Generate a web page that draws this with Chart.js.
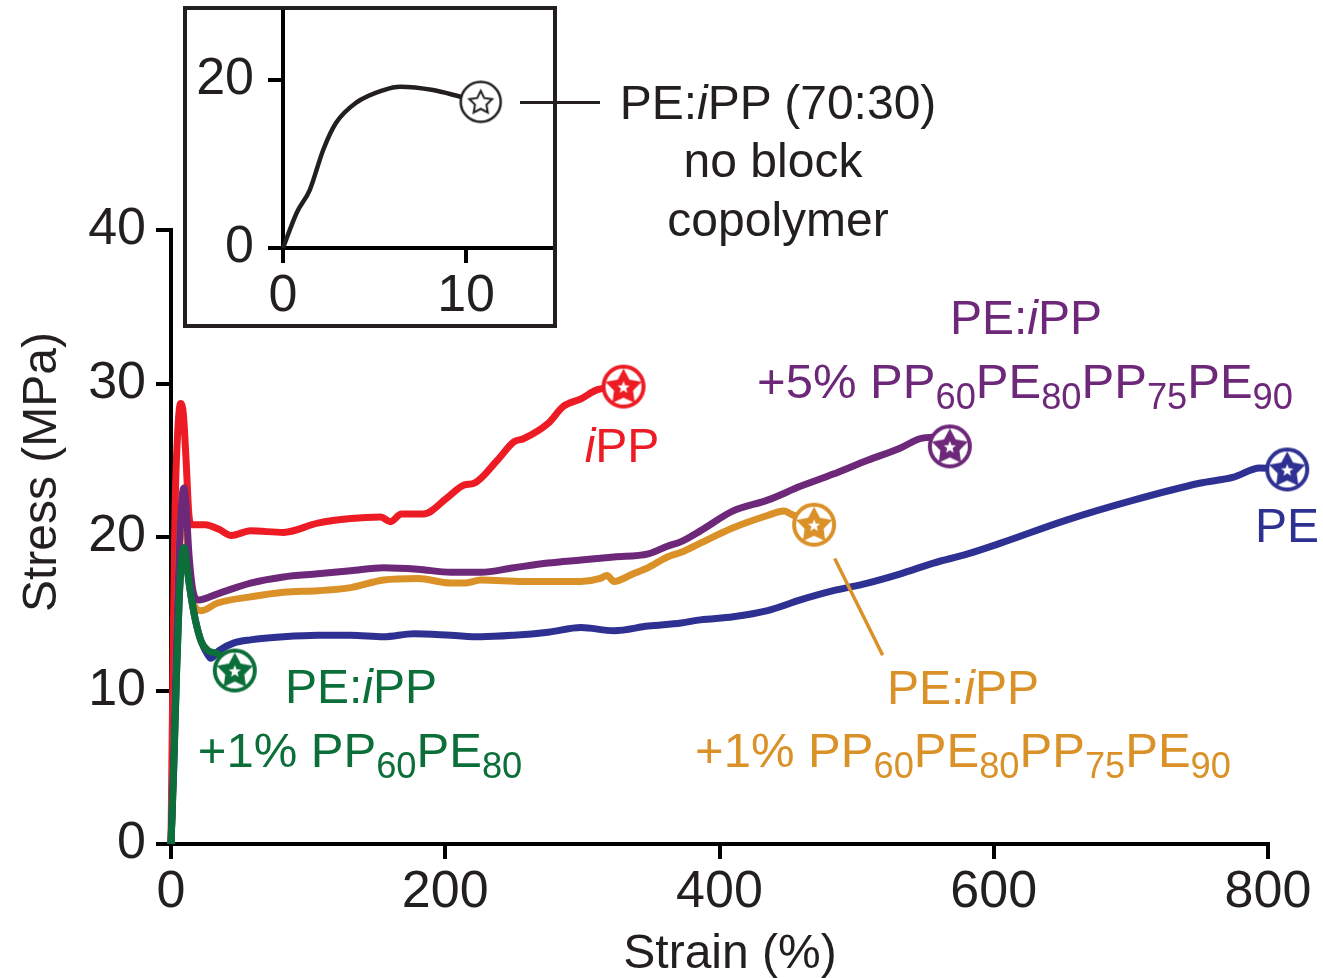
<!DOCTYPE html>
<html>
<head>
<meta charset="utf-8">
<script src="https://cdn.jsdelivr.net/npm/chart.js@4.4.1/dist/chart.umd.min.js"></script>
<style>
  body { margin: 0; background: #fff; }
  #wrap { position: relative; width: 1323px; height: 978px; font-family: "Liberation Sans", Arial, sans-serif; color: #231f20; }
  #main { position: absolute; left: 0; top: 0; }
  #box { position: absolute; left: 183px; top: 6px; width: 374px; height: 322px; border: 4px solid #231f20; box-sizing: border-box; background: #fff; }
  #inset { position: absolute; left: 187px; top: 10px; }
  .lbl { position: absolute; white-space: nowrap; font-size: 48px; line-height: 1; transform: translate(-50%, -50%); }
  .s { font-size: 0.74em; position: relative; top: 0.3em; }
  .lead { position: absolute; height: 3px; background: #231f20; }
</style>
</head>
<body>
<div id="wrap">
  <canvas id="main" width="1323" height="978"></canvas>
  <div id="box"></div>
  <canvas id="inset" width="366" height="314"></canvas>
  <div class="lead" style="left:520px;top:101px;width:80px"></div>

  <div class="lbl" style="left:778px;top:103px">PE:<i>i</i>PP (70:30)</div>
  <div class="lbl" style="left:773px;top:161px">no block</div>
  <div class="lbl" style="left:778px;top:220px">copolymer</div>

  <div class="lbl" style="left:40px;top:472px;transform:translate(-50%,-50%) rotate(-90deg)">Stress (MPa)</div>
  <div class="lbl" style="left:730px;top:952px">Strain (%)</div>

  <div class="lbl" style="left:622px;top:446px;color:#ed1c24"><i>i</i>PP</div>
  <div class="lbl" style="left:1026px;top:318px;color:#6e2879">PE:<i>i</i>PP</div>
  <div class="lbl" style="left:1025px;top:381px;color:#6e2879;font-size:49px">+5% PP<span class="s">60</span>PE<span class="s">80</span>PP<span class="s">75</span>PE<span class="s">90</span></div>
  <div class="lbl" style="left:1287px;top:526px;color:#2e3192">PE</div>
  <div class="lbl" style="left:361px;top:687px;color:#0c6f3a">PE:<i>i</i>PP</div>
  <div class="lbl" style="left:360px;top:750px;color:#0c6f3a;font-size:49px">+1% PP<span class="s">60</span>PE<span class="s">80</span></div>
  <div class="lbl" style="left:963px;top:688px;color:#da9128">PE:<i>i</i>PP</div>
  <div class="lbl" style="left:963px;top:750px;color:#da9128;font-size:49px">+1% PP<span class="s">60</span>PE<span class="s">80</span>PP<span class="s">75</span>PE<span class="s">90</span></div>
</div>

<script>
// strain (%) / stress (MPa)
const strainIPP = [0, 1.5, 3, 5, 7, 9, 11, 13, 15, 25, 35, 44, 58, 82, 107, 131, 153, 160, 168, 184, 202, 214, 221, 238, 250, 257, 275, 286, 299, 311, 330];
const stressIPP = [0, 12, 22, 27, 28.7, 28, 25, 21.5, 20.8, 20.8, 20.5, 20.1, 20.4, 20.3, 20.9, 21.2, 21.3, 21.0, 21.5, 21.5, 22.6, 23.4, 23.5, 25.0, 26.2, 26.4, 27.4, 28.5, 29.0, 29.6, 29.8];

const strain5 = [0, 2, 4, 6, 8, 9.5, 11, 13, 16, 20, 34, 58, 82, 107, 131, 155, 180, 204, 226, 250, 275, 299, 323, 348, 362, 372, 386, 410, 435, 459, 483, 508, 532, 546, 556, 568];
const stress5 = [0, 6, 13, 19, 22.5, 23.2, 22, 19, 16.5, 15.9, 16.3, 17.0, 17.4, 17.6, 17.8, 18.0, 17.9, 17.7, 17.7, 18.0, 18.3, 18.5, 18.7, 18.9, 19.4, 19.7, 20.4, 21.7, 22.4, 23.3, 24.1, 25.0, 25.8, 26.4, 26.5, 25.9];

const strain1b = [0, 2, 4, 6, 8, 9.5, 11, 13, 16, 22, 34, 58, 82, 107, 131, 155, 180, 204, 214, 226, 257, 299, 313, 318, 323, 337, 348, 362, 372, 386, 410, 435, 447, 452, 469];
const stress1b = [0, 6, 13, 19, 22, 22.6, 21, 18, 15.8, 15.2, 15.7, 16.1, 16.4, 16.5, 16.7, 17.2, 17.3, 17.0, 17.0, 17.2, 17.1, 17.1, 17.3, 17.5, 17.1, 17.6, 18.0, 18.7, 19.0, 19.6, 20.6, 21.4, 21.7, 21.5, 20.8];

const strainPE = [0, 2, 4, 6, 8, 9.5, 11, 14, 18, 22, 27, 29, 35, 46, 58, 82, 107, 131, 155, 177, 204, 226, 250, 275, 299, 323, 348, 372, 386, 410, 435, 459, 483, 508, 532, 556, 581, 605, 653, 702, 750, 775, 794, 814];
const stressPE = [0, 5, 11, 16, 18.8, 19.3, 18.5, 16.5, 14.5, 13.2, 12.3, 12.1, 12.6, 13.1, 13.3, 13.5, 13.6, 13.6, 13.5, 13.7, 13.6, 13.5, 13.6, 13.8, 14.1, 13.9, 14.2, 14.4, 14.6, 14.8, 15.2, 15.9, 16.5, 17.0, 17.6, 18.3, 18.9, 19.6, 21.1, 22.4, 23.5, 23.9, 24.5, 24.4];

const strain1a = [0, 2, 4, 6, 8, 9.5, 11, 14, 18, 22, 27, 34, 46.5];
const stress1a = [0, 5, 11, 16, 18.8, 19.3, 18.5, 16.5, 14.5, 13.2, 12.6, 12.4, 11.3];

// inset: blend with no block copolymer
const insetStrain = [0, 0.75, 1.46, 2.2, 2.9, 4.0, 5.5, 6.4, 8.2, 9.7, 10.8];
const insetStress = [0, 4.2, 6.9, 11.7, 14.9, 17.3, 18.8, 19.2, 18.8, 18.0, 17.4];

// orange call-out line, in data units
const leaderStrain = [484, 519];
const leaderStress = [18.6, 12.3];

const INK = '#231f20';
const FONT = '"Liberation Sans", Arial, sans-serif';

function starPath(g, cx, cy, ro, ri) {
  g.beginPath();
  for (let i = 0; i < 10; i++) {
    const r = i % 2 ? ri : ro;
    const a = -Math.PI / 2 + i * Math.PI / 5;
    g.lineTo(cx + r * Math.cos(a), cy + r * Math.sin(a));
  }
  g.closePath();
}

function makeMarker(color, R, lw, solid) {
  const c = document.createElement('canvas');
  const s = Math.ceil(2 * R + lw + 4);
  c.width = c.height = s;
  const g = c.getContext('2d');
  const m = s / 2;
  g.beginPath();
  g.arc(m, m, R, 0, 2 * Math.PI);
  g.fillStyle = '#fff';
  g.fill();
  g.lineWidth = lw;
  g.strokeStyle = color;
  g.stroke();
  if (solid) {
    starPath(g, m, m + 1, R - 1, R * 0.5);
    g.fillStyle = color;
    g.fill();
    starPath(g, m, m + 1, R * 0.32, R * 0.14);
    g.fillStyle = '#fff';
    g.fill();
  } else {
    starPath(g, m, m + 1, R * 0.6, R * 0.3);
    g.lineWidth = 2;
    g.stroke();
  }
  return c;
}

function toPoints(xs, ys) {
  return xs.map((x, i) => ({ x: x, y: ys[i] }));
}

function series(label, xs, ys, color, width, marker) {
  const last = xs.length - 1;
  return {
    label: label,
    data: toPoints(xs, ys),
    showLine: true,
    borderColor: color,
    borderWidth: width,
    cubicInterpolationMode: 'monotone',
    clip: false,
    pointStyle: (c) => c.dataIndex === last ? marker : 'circle',
    pointRadius: (c) => c.dataIndex === last ? 40 : 0,
    pointHoverRadius: 0,
  };
}

function axis(min, max, step, tickPad, extra) {
  return Object.assign({
    type: 'linear',
    min: min,
    max: max,
    ticks: { stepSize: step, includeBounds: false, color: INK, padding: tickPad, font: { family: FONT, size: 52 } },
    grid: { display: true, drawOnChartArea: false, drawTicks: true, tickLength: 15, tickWidth: 4, tickColor: '#000', color: '#000', lineWidth: 4 },
    border: { display: true, width: 4, color: '#000' },
  }, extra);
}

// inset axes run right to the frame, so drop the label overhang padding
function fitInset(size) {
  return (s) => {
    if (s.isHorizontal()) s.height = size; else s.width = size;
    s.paddingTop = 0;
    s.paddingRight = 0;
    s.paddingLeft = 0;
    s.paddingBottom = 0;
  };
}

const leaderPlugin = {
  id: 'leader',
  afterDatasetsDraw(chart) {
    const { ctx, scales: { x, y } } = chart;
    ctx.save();
    ctx.strokeStyle = '#da9128';
    ctx.lineWidth = 3.5;
    ctx.beginPath();
    ctx.moveTo(x.getPixelForValue(leaderStrain[0]), y.getPixelForValue(leaderStress[0]));
    ctx.lineTo(x.getPixelForValue(leaderStrain[1]), y.getPixelForValue(leaderStress[1]));
    ctx.stroke();
    ctx.restore();
  }
};

new Chart(document.getElementById('main'), {
  type: 'scatter',
  data: {
    datasets: [
      series('PE:iPP +1% PP60PE80', strain1a, stress1a, '#0c6f3a', 7, makeMarker('#0c6f3a', 20, 4, true)),
      series('PE', strainPE, stressPE, '#2e3192', 7, makeMarker('#2e3192', 20, 4, true)),
      series('PE:iPP +5% PP60PE80PP75PE90', strain5, stress5, '#6e2879', 7, makeMarker('#6e2879', 20, 4, true)),
      series('PE:iPP +1% PP60PE80PP75PE90', strain1b, stress1b, '#da9128', 7, makeMarker('#da9128', 20, 4, true)),
      series('iPP', strainIPP, stressIPP, '#ed1c24', 7, makeMarker('#ed1c24', 20, 4, true)),
    ]
  },
  options: {
    responsive: false,
    animation: false,
    layout: { padding: { left: 0, right: 55, top: 230, bottom: 0 } },
    plugins: { legend: { display: false }, tooltip: { enabled: false } },
    scales: {
      x: axis(0, 800, 200, 2, { afterFit: (s) => { s.height = 134; } }),
      y: axis(0, 40, 10, 10, { afterFit: (s) => { s.width = 171; } }),
    }
  },
  plugins: [leaderPlugin]
});

new Chart(document.getElementById('inset'), {
  type: 'scatter',
  data: {
    datasets: [
      series('PE:iPP (70:30) no block copolymer', insetStrain, insetStress, INK, 4.5, makeMarker(INK, 20, 2.5, false)),
    ]
  },
  options: {
    responsive: false,
    animation: false,
    layout: { padding: 0, autoPadding: false },
    plugins: { legend: { display: false }, tooltip: { enabled: false } },
    scales: {
      x: axis(0, 14.75, 10, 2, { afterFit: fitInset(76) }),
      y: axis(0, 28.33, 20, 14, { afterFit: fitInset(96) }),
    }
  }
});
</script>
</body>
</html>
